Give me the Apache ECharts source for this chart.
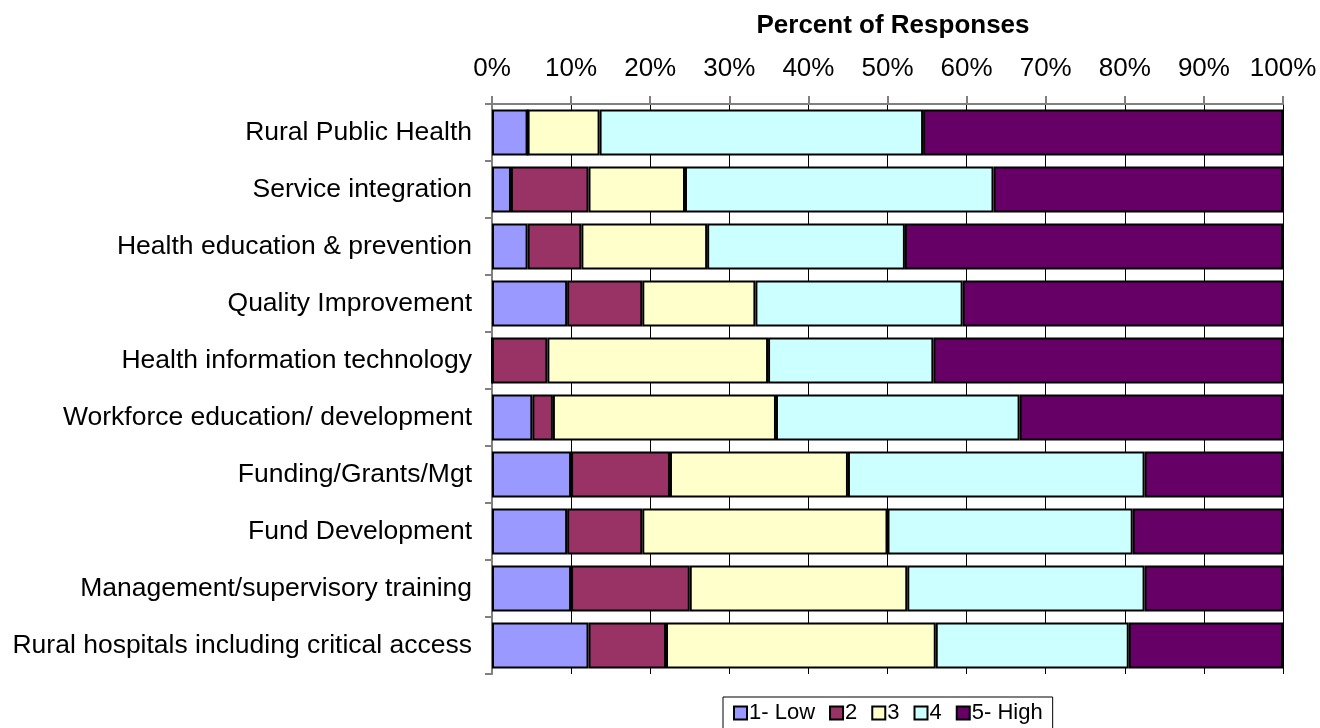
<!DOCTYPE html>
<html>
<head>
<meta charset="utf-8">
<script src="https://cdn.jsdelivr.net/npm/echarts@6/dist/echarts.min.js"></script>
<style>
  html, body { margin: 0; padding: 0; background: #fff; }
  #chart { width: 1320px; height: 728px; }
</style>
</head>
<body>
<div id="chart"></div>
<script>
// categories, top to bottom
const categories = [
  'Rural Public Health',
  'Service integration',
  'Health education & prevention',
  'Quality Improvement',
  'Health information technology',
  'Workforce education/ development',
  'Funding/Grants/Mgt',
  'Fund Development',
  'Management/supervisory training',
  'Rural hospitals including critical access'
]
const legendNames = ['1- Low', '2', '3', '4', '5- High']

// percent of responses per rating
const low1 = [4.5, 2.4, 4.5, 9.5, 0, 5.1, 10.0, 9.5, 10.0, 12.2]
const two2 = [0, 9.8, 6.8, 9.5, 7.0, 2.6, 12.5, 9.5, 15.0, 9.8]
const three3 = [9.1, 12.2, 15.9, 14.3, 27.9, 28.2, 22.5, 31.0, 27.5, 34.1]
const four4 = [40.9, 39.0, 25.0, 26.2, 20.9, 30.8, 37.5, 31.0, 30.0, 24.4]
const high5 = [45.5, 36.6, 47.8, 40.5, 44.2, 33.3, 17.5, 19.0, 17.5, 19.5]

const colors = ['#9999FF', '#993366', '#FFFFCC', '#CCFFFF', '#660066']
const seriesData = [low1, two2, three3, four4, high5]

const font = 'Liberation Sans, Arial, sans-serif'

var myChart = echarts.init(document.getElementById('chart'), null, { renderer: 'canvas' })

var option = {
  animation: false,
  textStyle: { fontFamily: font, color: '#000' },
  title: {
    text: 'Percent of Responses',
    left: 888,
    top: 8,
    textAlign: 'center',
    textStyle: { fontFamily: font, fontSize: 26, fontWeight: 'bold', color: '#000' }
  },
  legend: {
    data: legendNames,
    bottom: -4,
    left: 723,
    itemWidth: 13,
    itemHeight: 13,
    itemGap: 14,
    borderColor: '#000',
    borderWidth: 1,
    borderRadius: 0,
    padding: [5, 10, 8, 10],
    icon: 'rect',
    textStyle: { fontFamily: font, fontSize: 22, color: '#000', padding: [0, 0, 0, -3] }
  },
  grid: {
    left: 492,
    right: 37,
    top: 104,
    bottom: 54
  },
  xAxis: {
    type: 'value',
    position: 'top',
    min: 0,
    max: 100,
    interval: 10,
    axisLine: { show: true, lineStyle: { color: '#808080', width: 2 } },
    axisTick: { show: true, length: 8, lineStyle: { color: '#808080', width: 2 } },
    axisLabel: {
      formatter: '{value}%',
      margin: 22,
      fontFamily: font,
      fontSize: 26,
      color: '#000'
    },
    splitLine: { show: true, lineStyle: { color: '#000', width: 1 } }
  },
  yAxis: {
    type: 'category',
    inverse: true,
    data: categories,
    axisLine: { show: true, lineStyle: { color: '#808080', width: 2 } },
    axisTick: { show: true, length: 7, lineStyle: { color: '#808080', width: 2 } },
    axisLabel: {
      margin: 20,
      fontFamily: font,
      fontSize: 26.5,
      color: '#000'
    }
  },
  series: seriesData.map(function (vals, i) {
    return {
      name: legendNames[i],
      type: 'bar',
      stack: 'total',
      data: vals,
      barCategoryGap: '19%',
      itemStyle: {
        color: colors[i],
        borderColor: '#000',
        borderWidth: 2
      }
    }
  })
}

myChart.setOption(option, true)
</script>
</body>
</html>
